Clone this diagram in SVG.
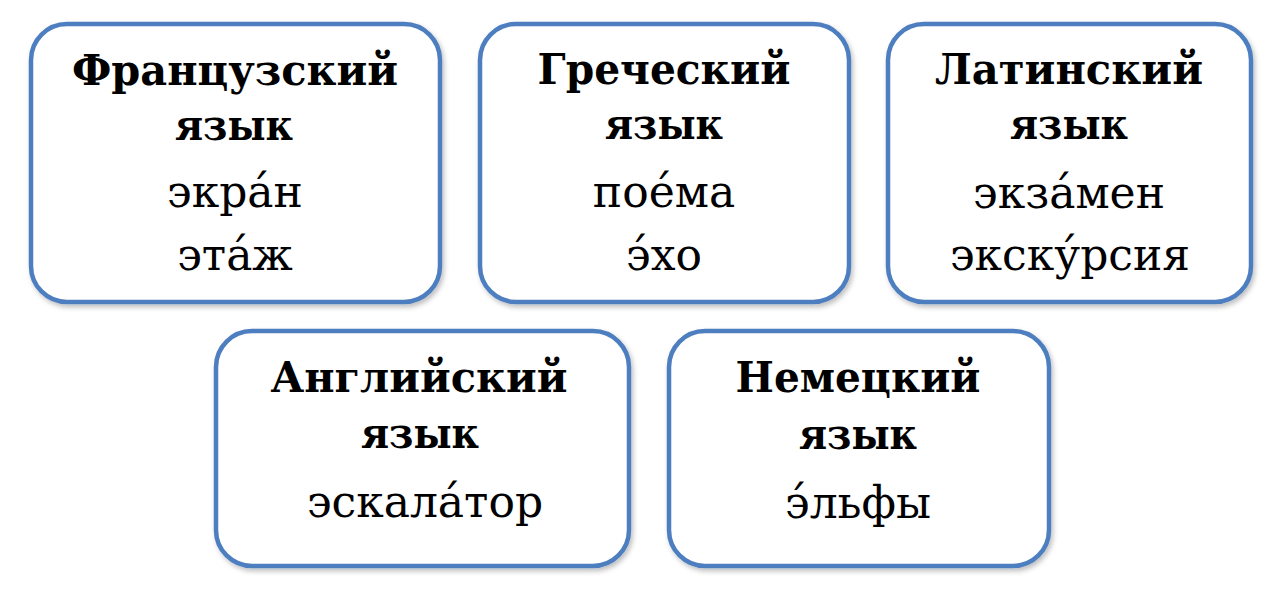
<svg xmlns="http://www.w3.org/2000/svg" width="1280" height="606" viewBox="0 0 1280 606">
<style>
.box{fill:#ffffff;stroke:#4d7ebf;stroke-width:4.5;filter:url(#sh)}
.t{font-family:"DejaVu Serif","Liberation Serif",serif;font-size:44px;fill:#000;text-anchor:middle}
.b{font-weight:bold;font-size:43px}
</style>
<defs>
<filter id="sh" x="-10%" y="-10%" width="120%" height="120%">
<feDropShadow dx="2" dy="3" stdDeviation="2.5" flood-color="#000" flood-opacity="0.25"/>
</filter>
</defs>
<rect width="1280" height="606" fill="#ffffff"/>
<g id="fr">
<rect class="box" x="31" y="24" width="409" height="278" rx="36"/>
<text class="t b" x="235" y="85" textLength="326" lengthAdjust="spacingAndGlyphs">Французский</text>
<text class="t b" x="234" y="140" textLength="118" lengthAdjust="spacingAndGlyphs">язык</text>
<text class="t" x="235" y="207">экра́н</text>
<text class="t" x="235" y="270">эта́ж</text>
</g>
<g id="gr">
<rect class="box" x="480" y="24" width="369" height="278" rx="36"/>
<text class="t b" x="664" y="84" textLength="253" lengthAdjust="spacingAndGlyphs">Греческий</text>
<text class="t b" x="664" y="139" textLength="118" lengthAdjust="spacingAndGlyphs">язык</text>
<text class="t" x="664" y="207">пое́ма</text>
<text class="t" x="664" y="270">э́хо</text>
</g>
<g id="la">
<rect class="box" x="888" y="24" width="363" height="278" rx="36"/>
<text class="t b" x="1069" y="84" textLength="268" lengthAdjust="spacingAndGlyphs">Латинский</text>
<text class="t b" x="1069" y="139" textLength="118" lengthAdjust="spacingAndGlyphs">язык</text>
<text class="t" x="1069" y="208">экза́мен</text>
<text class="t" x="1070" y="270">экску́рсия</text>
</g>
<g id="en">
<rect class="box" x="216" y="331" width="413" height="235" rx="36"/>
<text class="t b" x="419" y="392" textLength="297" lengthAdjust="spacingAndGlyphs">Английский</text>
<text class="t b" x="420" y="448" textLength="118" lengthAdjust="spacingAndGlyphs">язык</text>
<text class="t" x="425" y="517">эскала́тор</text>
</g>
<g id="de">
<rect class="box" x="669" y="331" width="380" height="235" rx="36"/>
<text class="t b" x="858" y="392" textLength="245" lengthAdjust="spacingAndGlyphs">Немецкий</text>
<text class="t b" x="858" y="449" textLength="118" lengthAdjust="spacingAndGlyphs">язык</text>
<text class="t" x="858" y="518">э́льфы</text>
</g>
<g id="connectors"></g>
</svg>
